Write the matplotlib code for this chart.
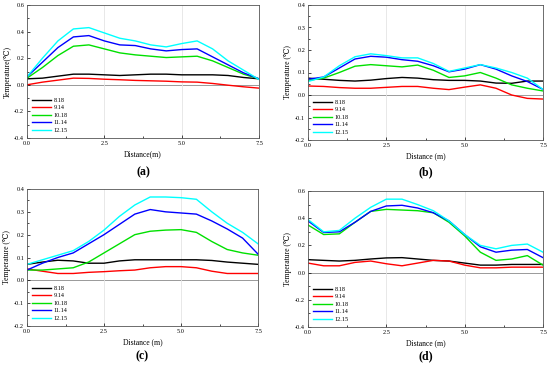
import matplotlib
matplotlib.use("Agg")
import matplotlib.pyplot as plt
from matplotlib.ticker import FormatStrFormatter, MultipleLocator

plt.rcParams['font.family'] = ['Liberation Serif', 'DejaVu Serif']

# distance along the section (m)
distance = [0, 0.5, 1, 1.5, 2, 2.5, 3, 3.5, 4, 4.5, 5, 5.5, 6, 6.5, 7, 7.5]
labels = ['8.18', '9.14', '10.18', '11.14', '12.15']
colors = ['#000000', '#ff0000', '#00e000', '#0000ff', '#00ffff']

# panel (a)
a_818 = [0.045, 0.05, 0.065, 0.08, 0.08, 0.075, 0.07, 0.075, 0.08, 0.08, 0.075, 0.075, 0.075, 0.07, 0.055, 0.045]
a_914 = [0.0, 0.02, 0.035, 0.05, 0.048, 0.042, 0.038, 0.033, 0.03, 0.027, 0.022, 0.02, 0.01, -0.003, -0.015, -0.025]
a_1018 = [0.05, 0.13, 0.22, 0.29, 0.30, 0.27, 0.24, 0.225, 0.215, 0.205, 0.21, 0.215, 0.18, 0.13, 0.08, 0.045]
a_1114 = [0.06, 0.17, 0.28, 0.36, 0.37, 0.33, 0.30, 0.295, 0.27, 0.255, 0.265, 0.27, 0.21, 0.15, 0.09, 0.045]
a_1215 = [0.06, 0.20, 0.33, 0.42, 0.43, 0.39, 0.35, 0.33, 0.30, 0.285, 0.31, 0.33, 0.27, 0.18, 0.11, 0.04]

# panel (b)
b_818 = [0.075, 0.07, 0.065, 0.062, 0.066, 0.073, 0.078, 0.075, 0.068, 0.065, 0.065, 0.062, 0.053, 0.052, 0.062, 0.062]
b_914 = [0.04, 0.038, 0.033, 0.03, 0.03, 0.034, 0.038, 0.038, 0.03, 0.024, 0.035, 0.045, 0.03, 0.0, -0.015, -0.018]
b_1018 = [0.065, 0.075, 0.10, 0.128, 0.135, 0.13, 0.125, 0.133, 0.11, 0.078, 0.085, 0.10, 0.075, 0.045, 0.03, 0.018]
b_1114 = [0.07, 0.08, 0.12, 0.16, 0.172, 0.168, 0.157, 0.15, 0.13, 0.103, 0.115, 0.135, 0.115, 0.085, 0.06, 0.025]
b_1215 = [0.06, 0.08, 0.13, 0.17, 0.183, 0.175, 0.165, 0.165, 0.14, 0.105, 0.12, 0.135, 0.12, 0.10, 0.075, 0.025]

# panel (c)
c_818 = [0.07, 0.08, 0.088, 0.085, 0.075, 0.075, 0.085, 0.09, 0.09, 0.09, 0.09, 0.09, 0.087, 0.08, 0.075, 0.07]
c_914 = [0.05, 0.04, 0.03, 0.03, 0.035, 0.038, 0.042, 0.045, 0.055, 0.06, 0.06, 0.055, 0.04, 0.03, 0.03, 0.03]
c_1018 = [0.045, 0.045, 0.05, 0.055, 0.08, 0.12, 0.16, 0.20, 0.215, 0.22, 0.222, 0.21, 0.17, 0.135, 0.12, 0.11]
c_1114 = [0.045, 0.075, 0.10, 0.12, 0.16, 0.20, 0.245, 0.29, 0.31, 0.30, 0.295, 0.29, 0.26, 0.225, 0.185, 0.115]
c_1215 = [0.07, 0.09, 0.11, 0.13, 0.17, 0.22, 0.28, 0.33, 0.365, 0.365, 0.362, 0.355, 0.30, 0.25, 0.21, 0.16]

# panel (d)
d_818 = [0.095, 0.09, 0.085, 0.09, 0.10, 0.108, 0.11, 0.10, 0.09, 0.085, 0.07, 0.055, 0.055, 0.06, 0.06, 0.06]
d_914 = [0.07, 0.05, 0.05, 0.075, 0.085, 0.065, 0.05, 0.07, 0.09, 0.085, 0.055, 0.035, 0.035, 0.04, 0.04, 0.04]
d_1018 = [0.35, 0.28, 0.285, 0.37, 0.45, 0.465, 0.46, 0.455, 0.44, 0.37, 0.27, 0.15, 0.09, 0.10, 0.125, 0.055]
d_1114 = [0.38, 0.295, 0.30, 0.37, 0.45, 0.49, 0.495, 0.475, 0.44, 0.38, 0.28, 0.19, 0.15, 0.165, 0.17, 0.11]
d_1215 = [0.39, 0.30, 0.31, 0.40, 0.48, 0.54, 0.54, 0.50, 0.455, 0.38, 0.28, 0.20, 0.175, 0.20, 0.21, 0.15]

panels = [
    ('a', [a_818, a_914, a_1018, a_1114, a_1215], (-0.4, 0.6), 0.2, 'Distance(m)', 'Temperature(\u2103)'),
    ('b', [b_818, b_914, b_1018, b_1114, b_1215], (-0.2, 0.4), 0.1, 'Distance (m)', 'Temperature (\u2103)'),
    ('c', [c_818, c_914, c_1018, c_1114, c_1215], (-0.2, 0.4), 0.1, 'Distance (m)', 'Temperature (\u2103)'),
    ('d', [d_818, d_914, d_1018, d_1114, d_1215], (-0.4, 0.6), 0.2, 'Distance (m)', 'Temperature (\u2103)'),
]

# axes rectangles in figure fraction (left, bottom, width, height)
W, H = 550, 369
boxes = [(27, 5, 259, 138), (308, 5, 543, 140), (27, 189, 258, 326), (308, 191, 543, 327)]
letter_y = [172, 172, 356, 356]

fig = plt.figure(figsize=(5.5, 3.69), dpi=100)

for (tag, series, ylim, ystep, xlab, ylab), (x0, y0, x1, y1), ly in zip(panels, boxes, letter_y):
    ax = fig.add_axes([x0 / W, 1 - y1 / H, (x1 - x0) / W, (y1 - y0) / H])
    for s, lab, c in zip(series, labels, colors):
        ax.plot(distance, s, color=c, lw=1.0, label=lab)
    ax.axhline(0, color='#999999', lw=0.7, zorder=0)
    for gx in (2.5, 5.0):
        ax.axvline(gx, color='#e4e4e4', lw=0.6, zorder=0)
    ax.set_xlim(0, 7.5)
    ax.set_ylim(*ylim)
    ax.xaxis.set_major_locator(MultipleLocator(2.5))
    ax.xaxis.set_minor_locator(MultipleLocator(1.25))
    ax.yaxis.set_major_locator(MultipleLocator(ystep))
    ax.yaxis.set_minor_locator(MultipleLocator(ystep / 2))
    ax.xaxis.set_major_formatter(FormatStrFormatter('%.1f'))
    ax.yaxis.set_major_formatter(FormatStrFormatter('%.1f'))
    ax.tick_params(which='both', direction='in', labelsize=4.5, length=2, width=0.5, pad=2)
    ax.tick_params(which='minor', length=1.2)
    for sp in ax.spines.values():
        sp.set_linewidth(0.6)
        sp.set_color('#555555')
    ax.set_xlabel(xlab, fontsize=5.5, labelpad=3)
    ax.set_ylabel(ylab, fontsize=5.5, labelpad=2)
    ax.legend(loc='lower left', fontsize=4.5, frameon=False, handlelength=3,
              labelspacing=0.35, borderaxespad=0.4, handletextpad=0.4)
    fig.text((x0 + x1) / 2 / W, 1 - ly / H, '(' + tag + ')', ha='center', va='center',
             fontsize=8.5, fontweight='bold')

fig.savefig('out.png', dpi=100)
